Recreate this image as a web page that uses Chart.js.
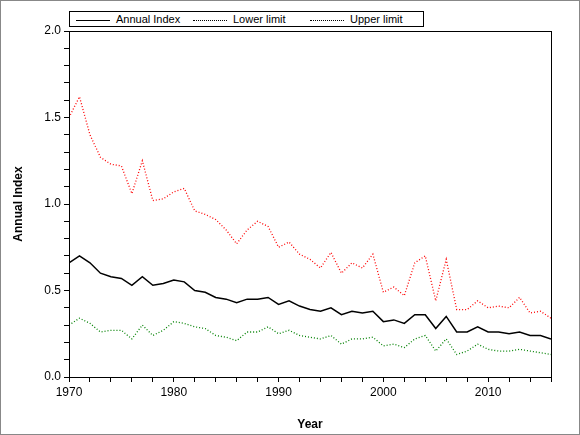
<!DOCTYPE html>
<html>
<head>
<meta charset="utf-8">
<script src="https://cdn.jsdelivr.net/npm/chart.js@4"></script>
<style>
  body { margin: 0; background: #fff; }
  #wrap { position: relative; width: 580px; height: 435px; box-sizing: border-box; border: 1px solid #888; }
  #legend { position: absolute; left: 68px; top: 10px; width: 353px; height: 14px; border: 1px solid #000;
            font: 11px Arial, "Liberation Sans", sans-serif; display: flex; align-items: center; background: #fff; }
  #legend span.s { display: inline-block; width: 34px; margin: 0 6px 0 6px; vertical-align: middle; }
  #legend div { width: 117px; white-space: nowrap; }
</style>
</head>
<body>
<div id="wrap">
  <canvas id="c" width="580" height="435"></canvas>
  <div id="legend">
    <div><span class="s" style="border-top:1px solid #000"></span>Annual Index</div>
    <div><span class="s" style="border-top:1px dotted #000"></span>Lower limit</div>
    <div><span class="s" style="border-top:1px dotted #000"></span>Upper limit</div>
  </div>
</div>
<script>
// --- Data ---
const years = [];
for (let y = 1970; y <= 2016; y++) years.push(y);

const annualIndex = [0.66,0.70,0.66,0.60,0.58,0.57,0.53,0.58,0.53,0.54,0.56,0.55,0.50,0.49,0.46,0.45,0.43,0.45,0.45,0.46,0.42,0.44,0.41,0.39,0.38,0.40,0.36,0.38,0.37,0.38,0.32,0.33,0.31,0.36,0.36,0.28,0.35,0.26,0.26,0.29,0.26,0.26,0.25,0.26,0.24,0.24,0.22];
const lowerLimit = [0.30,0.34,0.31,0.26,0.27,0.27,0.22,0.30,0.24,0.27,0.32,0.31,0.29,0.28,0.24,0.23,0.21,0.26,0.26,0.29,0.25,0.27,0.24,0.23,0.22,0.24,0.19,0.22,0.22,0.23,0.18,0.19,0.17,0.22,0.24,0.15,0.22,0.13,0.15,0.19,0.16,0.15,0.15,0.16,0.15,0.14,0.13];
const upperLimit = [1.50,1.62,1.40,1.27,1.23,1.22,1.06,1.25,1.02,1.03,1.07,1.09,0.96,0.94,0.91,0.85,0.77,0.85,0.90,0.87,0.75,0.78,0.71,0.68,0.63,0.72,0.60,0.66,0.63,0.71,0.49,0.52,0.47,0.66,0.70,0.44,0.68,0.39,0.39,0.44,0.40,0.41,0.40,0.46,0.37,0.38,0.34];

const pts = arr => arr.map((v, i) => ({ x: years[i], y: v }));
const font = { family: 'Arial, "Liberation Sans", sans-serif', size: 12 };

new Chart(document.getElementById('c'), {
    type: 'line',
    data: {
        datasets: [
            { label: 'Upper limit', data: pts(upperLimit), borderColor: '#ff0000', borderWidth: 1.3, borderDash: [1, 2] },
            { label: 'Annual Index', data: pts(annualIndex), borderColor: '#000000', borderWidth: 1.5 },
            { label: 'Lower limit', data: pts(lowerLimit), borderColor: '#008000', borderWidth: 1.3, borderDash: [1, 2] }
        ]
    },
    options: {
        responsive: false,
        animation: false,
        elements: { point: { radius: 0 }, line: { tension: 0 } },
        layout: { padding: { top: 30, right: 30, left: 0, bottom: 0 } },
        plugins: { legend: { display: false }, tooltip: { enabled: false } },
        scales: {
            x: {
                type: 'linear', min: 1970, max: 2016,
                border: { color: '#000', width: 1 },
                grid: { drawOnChartArea: false, color: '#000', tickLength: 5 },
                ticks: { stepSize: 2, color: '#000', font, autoSkip: false, maxRotation: 0,
                         callback: v => v % 10 === 0 ? v : '' },
                title: { display: true, text: 'Year', color: '#000', font: { ...font, weight: 'bold' }, padding: { top: 0 } },
                afterFit: s => { s.height = 59; }
            },
            y: {
                min: 0, max: 2,
                border: { color: '#000', width: 1 },
                grid: { drawOnChartArea: false, color: '#000', tickLength: 5 },
                ticks: { stepSize: 0.1, color: '#000', font, autoSkip: false,
                         callback: v => Math.abs(v * 2 - Math.round(v * 2)) < 1e-6 ? v.toFixed(1) : '' },
                title: { display: true, text: 'Annual Index', color: '#000', font: { ...font, weight: 'bold' }, padding: { top: 10, bottom: 0 } },
                afterFit: s => { s.width = 68; }
            }
        }
    },
    plugins: [{
        id: 'frame',
        afterDraw(chart) {
            const { ctx, chartArea: a } = chart;
            ctx.save();
            ctx.strokeStyle = '#000';
            ctx.lineWidth = 1;
            ctx.strokeRect(a.left + 0.5, a.top + 0.5, a.right - a.left, a.bottom - a.top);
            ctx.restore();
        }
    }]
});
</script>
</body>
</html>
